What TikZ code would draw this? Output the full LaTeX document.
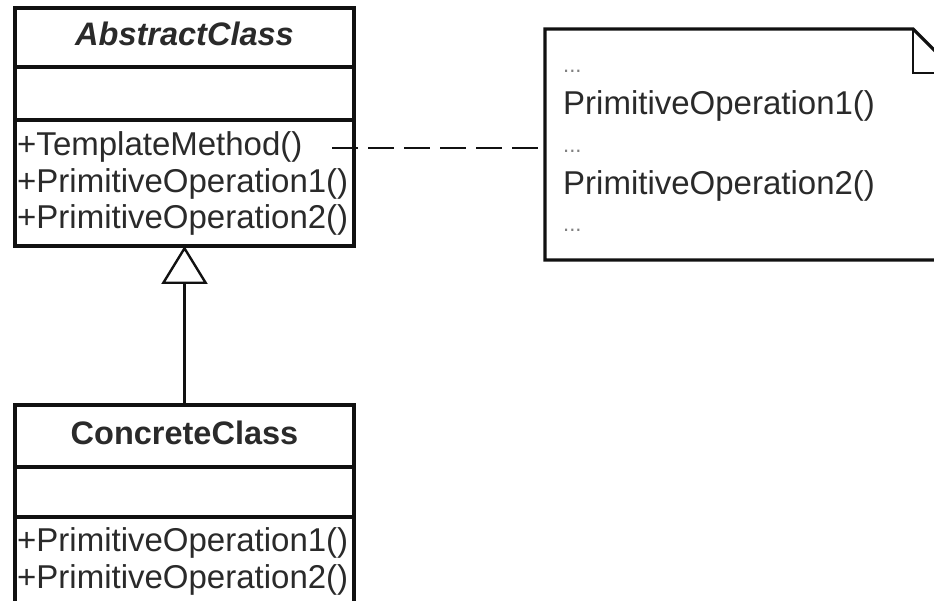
\documentclass[tikz,border=0pt]{standalone}
\usepackage{fontspec}
\setmainfont{Liberation Sans}
\usetikzlibrary{arrows.meta}
\definecolor{txt}{HTML}{2A2A2A}
\definecolor{ln}{HTML}{111111}
\begin{document}
\begin{tikzpicture}[x=1pt,y=-1pt,
  comp/.style={draw=ln,line width=3.2pt,minimum width=339pt,inner sep=0pt,outer sep=0pt},
  txtnode/.style={inner sep=0pt,anchor=base west,text=txt,font=\fontsize{33}{38}\selectfont},
  titlenode/.style={inner sep=0pt,anchor=base,text=txt,font=\fontsize{32.5}{38}\selectfont\bfseries},
  dotsnode/.style={inner sep=0pt,anchor=base west,text=gray,font=\fontsize{22}{26}\selectfont},
  conn/.style={draw=ln,line width=3.2pt}]
\useasboundingbox (0,0) rectangle (934,601);
\fill[white] (0,0) rectangle (934,601);
\clip (0,0) rectangle (934,601);
% AbstractClass
\node[comp,minimum height=59pt] (atitle) at (184.5,37.5) {};
\node[comp,minimum height=53pt] (aattr) at (184.5,93.5) {};
\node[comp,minimum height=126pt] (ameth) at (184.5,183) {};
\node[titlenode,font=\fontsize{32.5}{38}\selectfont\bfseries\itshape] (atext) at (184.5,46) {AbstractClass};
\node[txtnode] (m1) at (17,156) {+TemplateMethod()};
\node[txtnode] (m2) at (17,193) {+PrimitiveOperation1()};
\node[txtnode] (m3) at (17,229) {+PrimitiveOperation2()};
% ConcreteClass
\node[comp,minimum height=62pt] (ctitle) at (184.5,436) {};
\node[comp,minimum height=50pt] (cattr) at (184.5,492) {};
\node[comp,minimum height=120pt] (cmeth) at (184.5,577) {};
\node[titlenode] (ctext) at (184.5,444) {ConcreteClass};
\node[txtnode] (c1) at (17,551) {+PrimitiveOperation1()};
\node[txtnode] (c2) at (17,588) {+PrimitiveOperation2()};
% Note
\coordinate (nfold) at (913,29);
\draw[conn] (545,29) -- (nfold) -- (957,73) -- (957,260) -- (545,260) -- cycle;
\draw[draw=ln,line width=2.4pt] (nfold) -- (913,73) -- (957,73);
\node[inner sep=0pt,outer sep=0pt,minimum width=412pt,minimum height=231pt] (note) at (751,144.5) {};
\node[dotsnode] (d1) at (563,73) {...};
\node[txtnode] (n1) at (563,115) {PrimitiveOperation1()};
\node[dotsnode] (d2) at (563,153) {...};
\node[txtnode] (n2) at (563,195) {PrimitiveOperation2()};
\node[dotsnode] (d3) at (563,232) {...};
% Connectors
\coordinate (tmend) at (332,148);
\draw[draw=ln,line width=2.6pt,dash pattern=on 26pt off 10pt] (tmend) -- (tmend -| note.west);
\draw[conn,-{Triangle[open,length=38pt,width=46pt,line width=2.4pt]}] (ctitle.north) -- (ameth.south);
\end{tikzpicture}
\end{document}
